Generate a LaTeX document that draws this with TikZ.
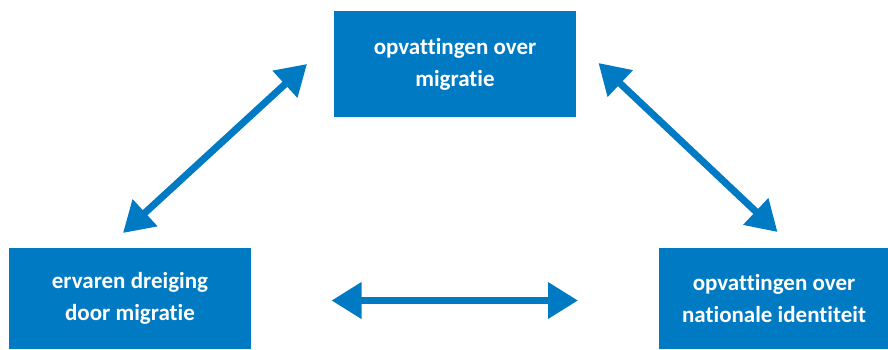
\documentclass[tikz,border=0pt]{standalone}
\usepackage{fontspec}
\setmainfont[Ligatures=NoCommon]{Carlito}
\usetikzlibrary{arrows.meta}
\definecolor{rijkblauw}{RGB}{0,122,194}
\tikzset{
  box/.style={fill=rijkblauw, draw=none, text=white, align=center, inner sep=0pt,
    font=\fontsize{23}{32}\selectfont\bfseries},
  link/.style={draw=rijkblauw, line width=7pt,
    {Triangle[length=30pt,width=35pt]}-{Triangle[length=30pt,width=35pt]}}
}
\begin{document}
\begin{tikzpicture}[x=1pt,y=-1pt]
\useasboundingbox (0,0) rectangle (888,349);
\node[box, minimum width=242pt, minimum height=106pt] (top) at (455,64) {opvattingen over\\migratie};
\node[box, minimum width=242pt, minimum height=101pt] (left) at (130,298.5) {ervaren dreiging\\door migratie};
\node[box, minimum width=230pt, minimum height=101pt] (right) at (774,298.5) {opvattingen over\\nationale identiteit};
\coordinate (l1) at (123,233);
\coordinate (l2) at (307,64);
\coordinate (r1) at (598.5,63);
\coordinate (r2) at (777.5,232);
\coordinate (h1) at (331.5,300.5);
\coordinate (h2) at (578,300.5);
\draw[link] (l1) -- (l2);
\draw[link] (r1) -- (r2);
\draw[link] (h1) -- (h2);
\end{tikzpicture}
\end{document}
